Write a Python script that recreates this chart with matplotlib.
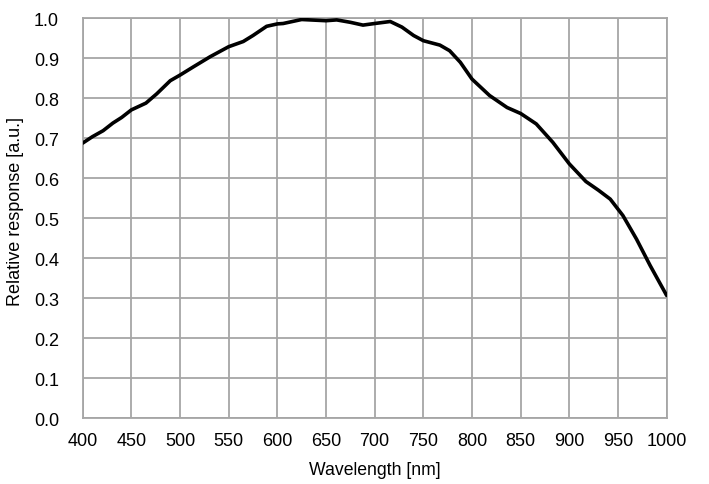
import numpy as np
import matplotlib.pyplot as plt

plt.rcParams['font.family'] = ['Liberation Sans', 'DejaVu Sans']

wavelength = [400, 410, 421, 431, 440, 450, 465, 476, 490, 500, 514, 531, 550,
              565, 575, 589, 600, 606, 625, 650, 661, 675, 688, 700, 716, 728,
              740, 750, 767, 777, 788, 800, 818, 836, 850, 866, 883, 900, 917,
              930, 942, 955, 969, 983, 1000]
response = [0.688, 0.704, 0.719, 0.738, 0.752, 0.771, 0.788, 0.811, 0.844, 0.858,
            0.879, 0.904, 0.929, 0.942, 0.957, 0.980, 0.986, 0.987, 0.997, 0.994,
            0.996, 0.990, 0.983, 0.987, 0.992, 0.978, 0.957, 0.944, 0.933, 0.919,
            0.890, 0.848, 0.807, 0.777, 0.762, 0.736, 0.690, 0.636, 0.592, 0.570,
            0.548, 0.507, 0.448, 0.382, 0.307]
yticks = [0.0, 0.1, 0.2, 0.3, 0.4, 0.5, 0.6, 0.7, 0.8, 0.9, 1.0]

fig = plt.figure(figsize=(7.09, 4.85), dpi=100)
ax = fig.add_axes([0.1166, 0.1355, 0.8237, 0.8247])

ax.plot(wavelength, response, color='black', linewidth=2.6, solid_capstyle='round',
        solid_joinstyle='round', zorder=3)

ax.set_xlim(400, 1000)
ax.set_ylim(0, 1.0)
ax.set_xticks(np.arange(400, 1001, 50))
ax.set_yticks(yticks)
ax.set_yticklabels(['%.1f' % v for v in yticks])
ax.grid(True, color='#a6a6a6', linewidth=1.3)
for s in ax.spines.values():
    s.set_color('#a6a6a6')
    s.set_linewidth(1.3)
ax.tick_params(length=0, labelsize=13)
ax.tick_params(axis='y', pad=17)
ax.tick_params(axis='x', pad=10)

fig.text(374.7 / 709, 1 - 471 / 485, 'Wavelength [nm]', fontsize=12.7,
         ha='center', va='center')
fig.text(15.5 / 709, 1 - 211 / 485, 'Relative response [a.u.]', fontsize=13,
         ha='center', va='center', rotation=90)

fig.savefig('out.png', dpi=100)
